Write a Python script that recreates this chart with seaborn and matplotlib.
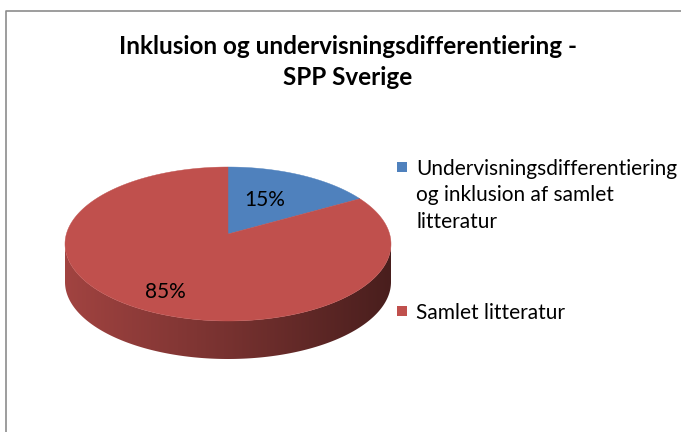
import numpy as np
import matplotlib
matplotlib.use("Agg")
import matplotlib.pyplot as plt
import seaborn as sns
from matplotlib.patches import Polygon, Rectangle
from matplotlib.colors import to_rgb, LinearSegmentedColormap


# Chart data
categories = ["Undervisningsdifferentiering\nog inklusion af samlet\nlitteratur",
              "Samlet litteratur"]
shares = [15, 85]
pct_labels = ["15%", "85%"]
title = "Inklusion og undervisningsdifferentiering -\nSPP Sverige"

sns.set_theme(style="white")
plt.rcParams['font.family'] = ['Lato', 'DejaVu Sans']
colors = ["#4F81BD", "#C0504D"]

fig = plt.figure(figsize=(6.81, 4.32), dpi=100)
ax = fig.add_axes([0, 0, 1, 1])
ax.set_xlim(0, 681)
ax.set_ylim(432, 0)
ax.axis("off")

# chart border (Excel chart area)
ax.plot([6, 6, 690], [440, 11, 11], color="#8c8c8c", lw=1.2, solid_capstyle="butt")

# pie geometry in pixel space
cx, cy, rx, ry, depth = 228, 244, 163, 77, 38
apex = (cx, cy - 10)

fracs = np.array(shares) / np.sum(shares)
bounds = np.concatenate([[0], np.cumsum(fracs)]) * 360


def pt(phi_deg, dy=0):
    p = np.radians(phi_deg)
    return cx + rx * np.sin(p), cy - ry * np.cos(p) + dy


# side wall (front half), one gradient per slice clipped to its band
for i, (s, e) in enumerate(zip(bounds[:-1], bounds[1:])):
    lo, hi = max(s, 90), min(e, 270)
    if hi <= lo:
        continue
    ph = np.linspace(lo, hi, 300)
    top = [pt(p) for p in ph]
    bot = [pt(p, depth) for p in ph[::-1]]
    band = Polygon(top + bot, closed=True, facecolor="none", edgecolor="none")
    ax.add_patch(band)
    base = np.array(to_rgb(colors[i]))
    cmap = LinearSegmentedColormap.from_list(
        "side", [base * 0.84, base * 0.62, base * 0.38])
    grad = np.linspace(0, 1, 256).reshape(1, -1)
    im = ax.imshow(grad, cmap=cmap, aspect="auto", interpolation="bilinear",
                   extent=[cx - rx, cx + rx, cy + ry + depth + 2, cy - 2], zorder=1)
    im.set_clip_path(band)

# top face wedges
for i, (s, e) in enumerate(zip(bounds[:-1], bounds[1:])):
    arc = [pt(p) for p in np.linspace(s, e, 300)]
    ax.add_patch(Polygon([apex] + arc, closed=True, facecolor=colors[i],
                         edgecolor=colors[i], lw=0.3, zorder=2))

# percentage labels
label_r = [0.5, 0.85]
for i, (s, e) in enumerate(zip(bounds[:-1], bounds[1:])):
    m = np.radians((s + e) / 2)
    lx = cx + rx * label_r[i] * np.sin(m)
    ly = apex[1] - ry * label_r[i] * np.cos(m)
    ax.text(lx, ly, pct_labels[i], ha="center", va="center", fontsize=15,
            color="black", zorder=3)

# title
ax.text(348, 62, title, ha="center", va="center", fontsize=17.5, fontweight="bold",
        linespacing=1.4, color="black")

# legend
leg_y = [167, 311]
for i, lab in enumerate(categories):
    ax.add_patch(Rectangle((397, leg_y[i] - 5), 10, 10, facecolor=colors[i], edgecolor="none"))
    ax.text(416, leg_y[i] - 8, lab, ha="left", va="top", fontsize=15,
            linespacing=1.4, color="black")

fig.savefig("out.png", dpi=100, facecolor="white")
